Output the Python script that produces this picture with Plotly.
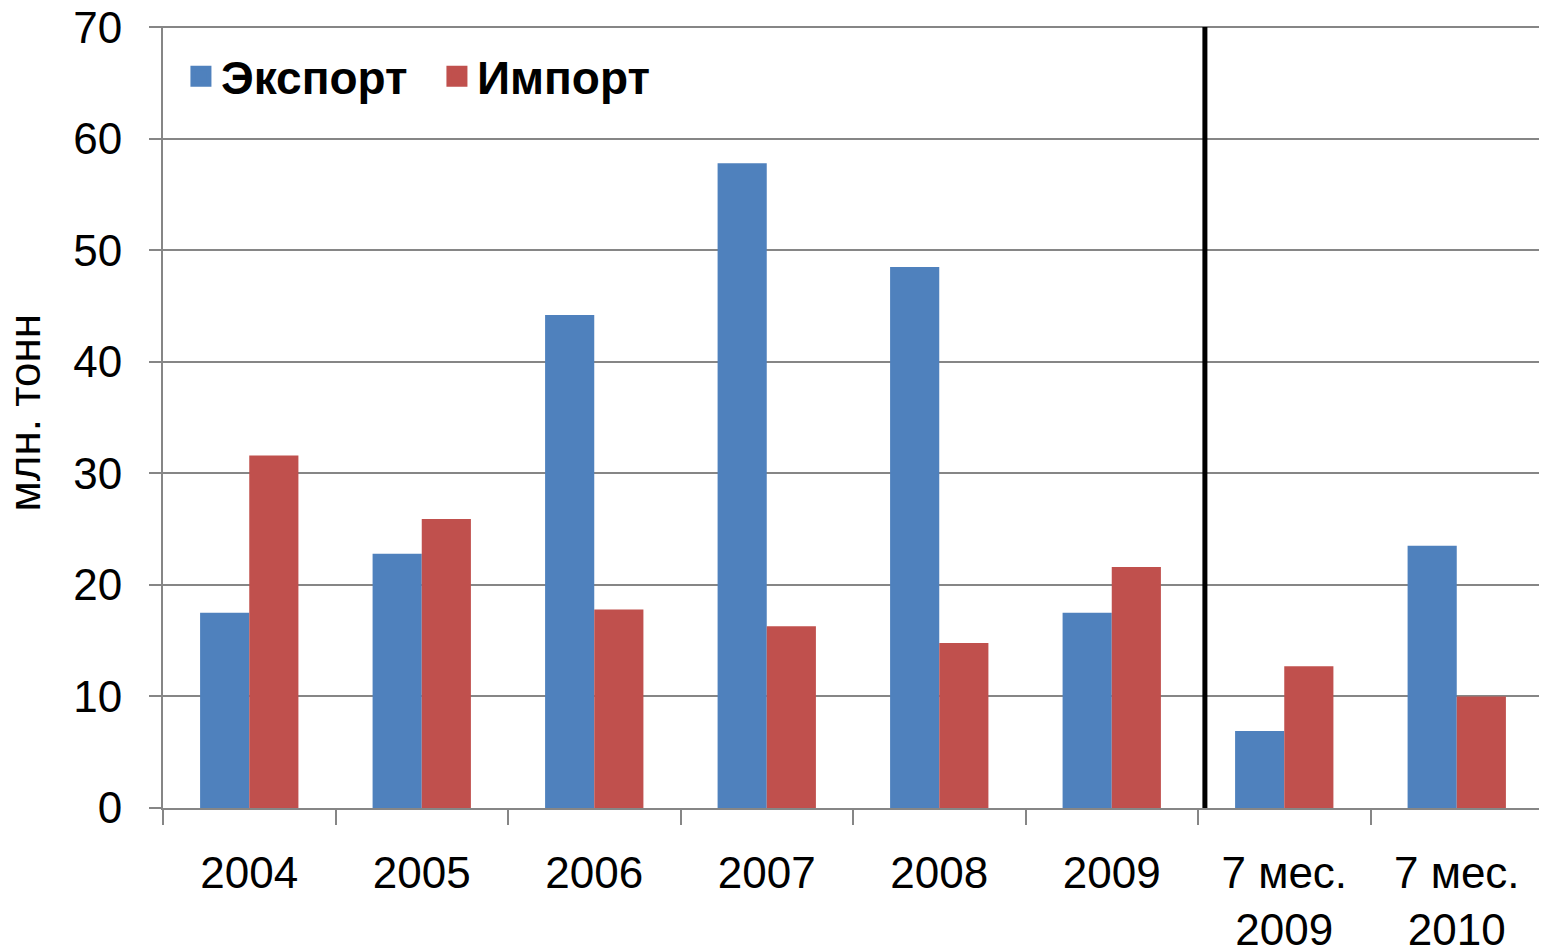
import plotly.graph_objects as go

categories = ["2004", "2005", "2006", "2007", "2008", "2009", "7 мес.<br>2009", "7 мес.<br>2010"]
export_vals = [17.5, 22.8, 44.2, 57.8, 48.5, 17.5, 6.9, 23.5]
import_vals = [31.6, 25.9, 17.8, 16.3, 14.8, 21.6, 12.7, 10.0]
y_ticks = [0, 10, 20, 30, 40, 50, 60, 70]

BLUE = "#4F81BD"
RED = "#C0504D"
FONT = "Arial, Liberation Sans, sans-serif"

fig = go.Figure()
fig.add_trace(go.Bar(x=categories, y=export_vals, name="Экспорт", marker=dict(color=BLUE, line=dict(width=0)), showlegend=False))
fig.add_trace(go.Bar(x=categories, y=import_vals, name="Импорт", marker=dict(color=RED, line=dict(width=0)), showlegend=False))
# legend entries with larger square symbols
for name, col in [("Экспорт", BLUE), ("Импорт", RED)]:
    fig.add_trace(go.Scatter(x=[None], y=[None], mode="markers", name=name,
                             marker=dict(symbol="square", size=16, color=col, line=dict(color=col, width=5))))

fig.add_shape(type="line", xref="x", yref="y", x0=5.54, x1=5.54, y0=-0.4, y1=70,
              line=dict(color="black", width=5))

fig.update_layout(
    template="none",
    width=1539, height=944,
    margin=dict(l=155, r=4, t=18, b=144, autoexpand=False),
    paper_bgcolor="white", plot_bgcolor="white",
    font=dict(family=FONT, size=44, color="black"),
    barmode="group", bargap=0.43, bargroupgap=0,
    legend=dict(orientation="h", x=0.013, y=0.9355, xanchor="left", yanchor="middle",
                font=dict(size=46, color="black", family=FONT, weight="bold"),
                bgcolor="rgba(0,0,0,0)", entrywidth=211, itemwidth=30),
    xaxis=dict(type="category", showgrid=False, showline=True, linecolor="#868686", linewidth=2,
               ticks="outside", ticklen=15, tickwidth=2, tickcolor="#868686",
               tickson="boundaries", ticklabelstandoff=25, automargin=False,
               ticklabeloverflow="allow",
               tickfont=dict(size=44, family=FONT, color="black")),
    yaxis=dict(range=[0, 70.1], tickvals=y_ticks, showgrid=True, gridcolor="#868686", gridwidth=2,
               showline=True, linecolor="#868686", linewidth=2, zeroline=False,
               ticks="outside", ticklen=12, tickwidth=2, tickcolor="#868686",
               ticklabelstandoff=18, automargin=False, ticklabeloverflow="allow",
               tickfont=dict(size=44, family=FONT, color="black")),
    annotations=[dict(text="млн. тонн", xref="paper", yref="paper", x=-0.1005, y=0.505,
                      xanchor="center", yanchor="middle", textangle=-90, showarrow=False,
                      font=dict(size=44, family=FONT, color="black"))],
)

fig.write_html("out.html")
